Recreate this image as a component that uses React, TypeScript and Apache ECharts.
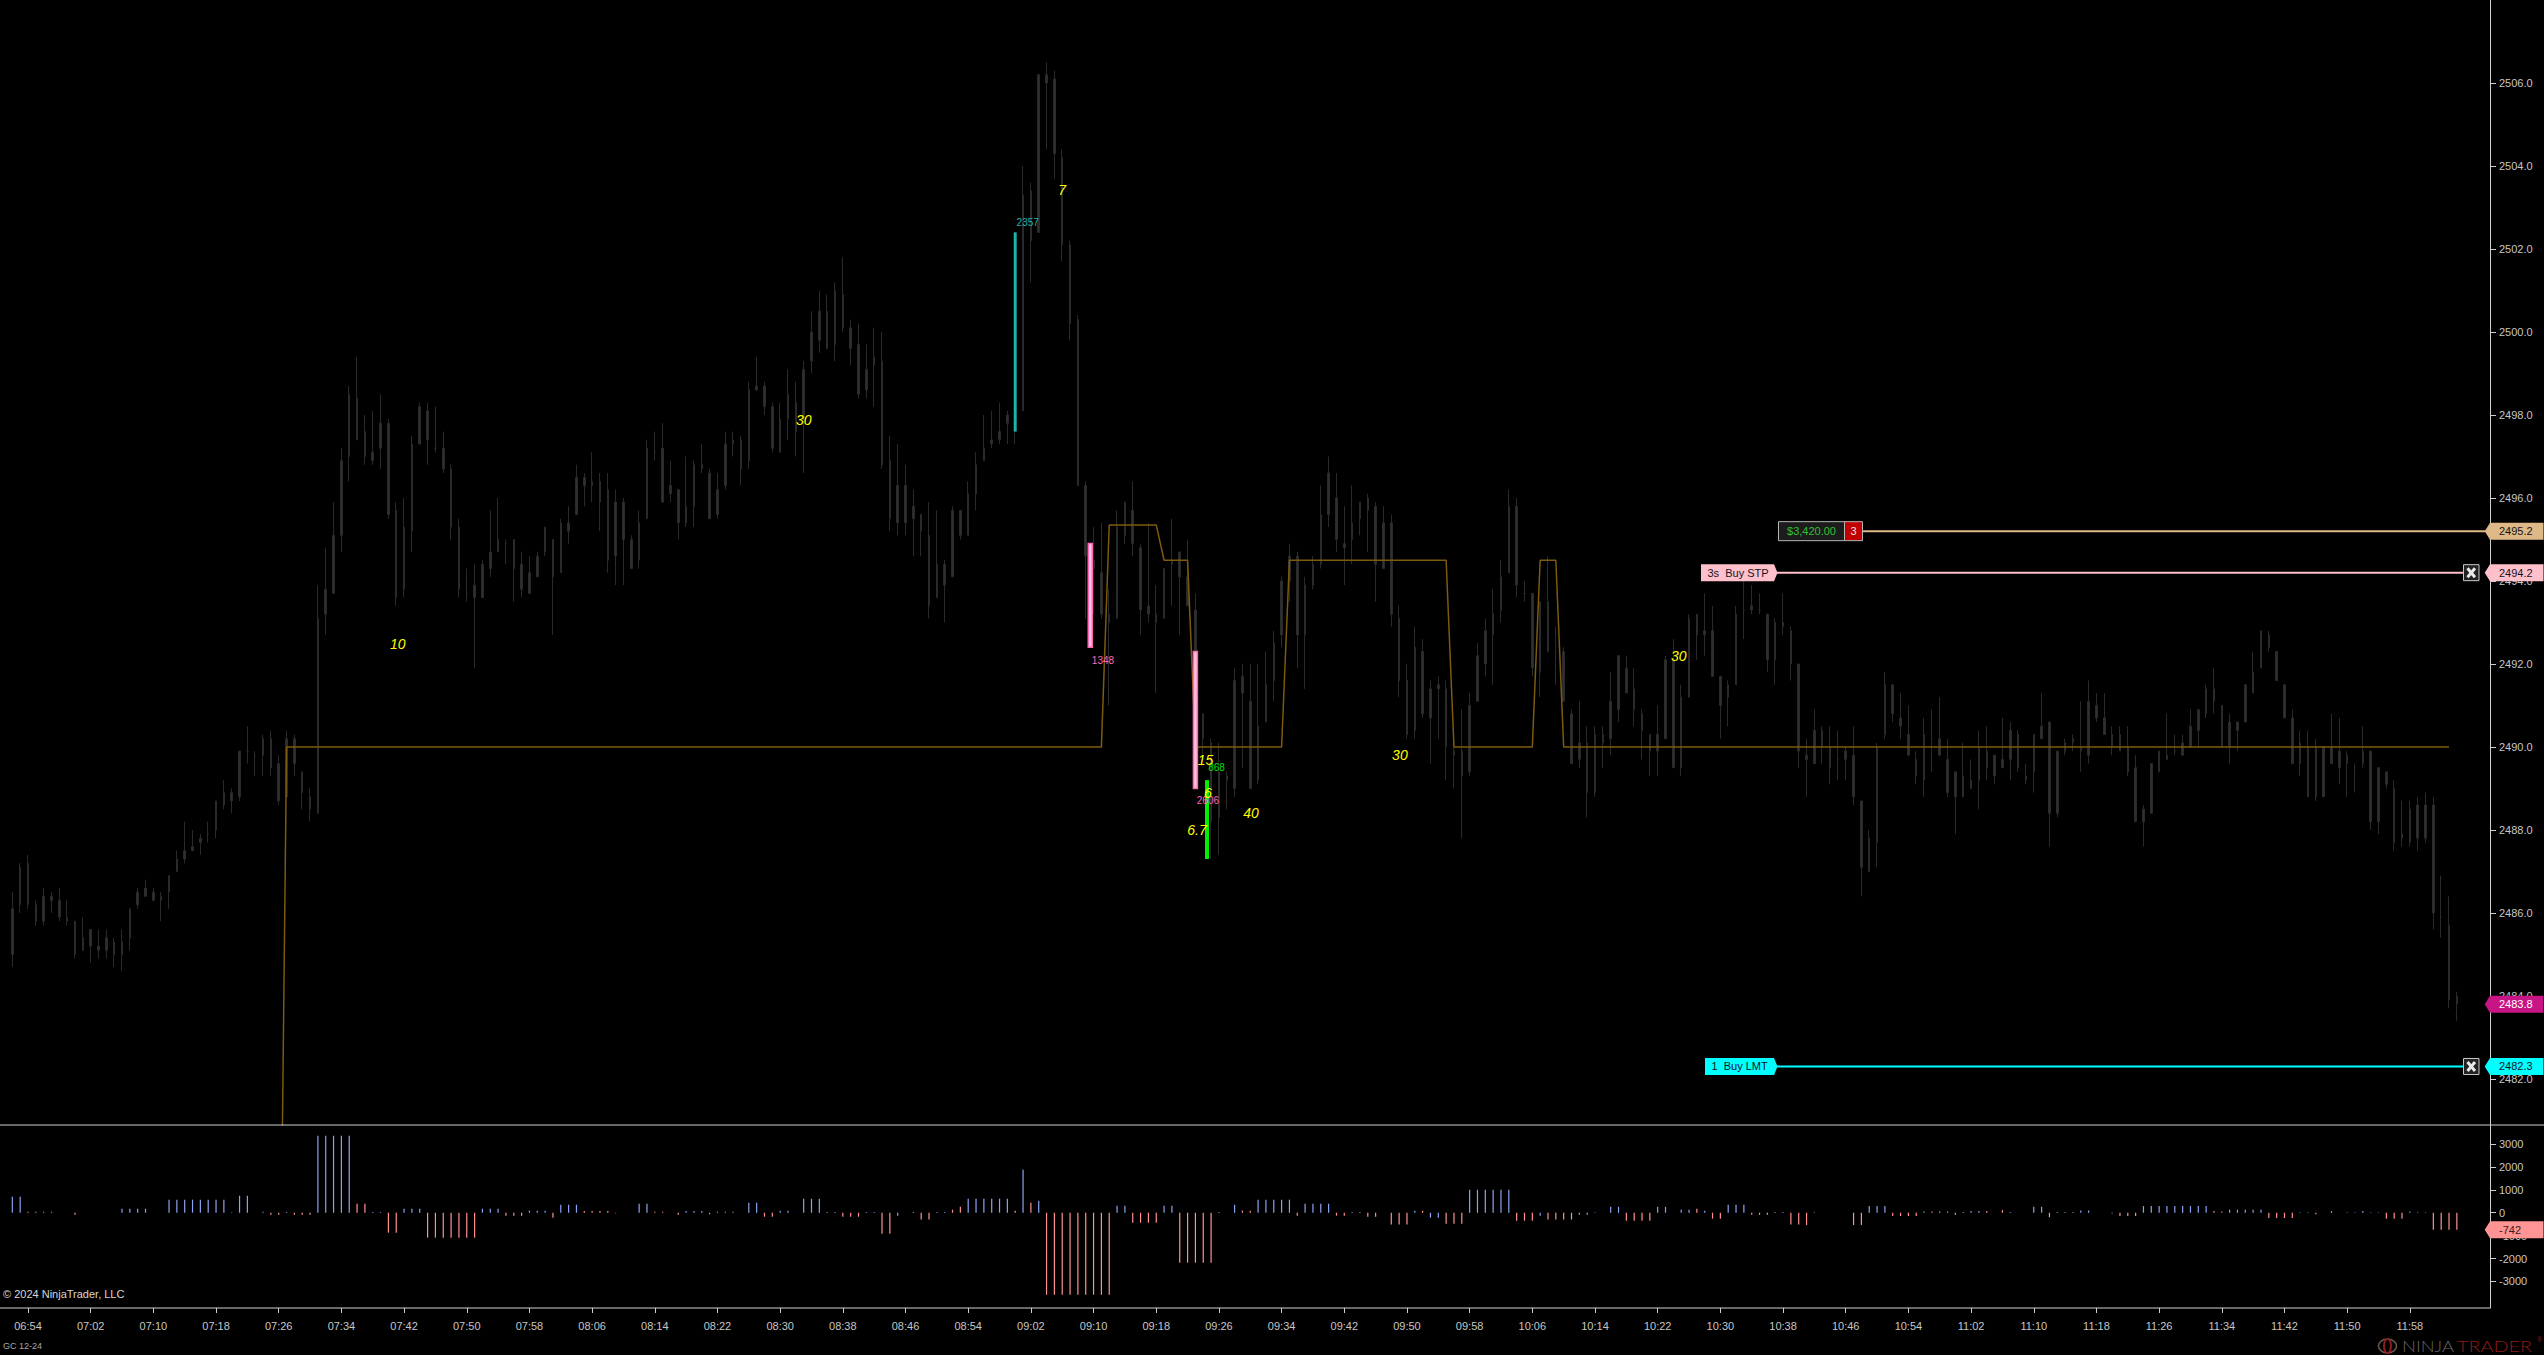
import React, { useEffect, useRef } from "react";
import * as echarts from "echarts";

// One minute per bar, 06:52 to 12:04, plus empty slots before the price scale.
const SESSION_START_MIN = 6 * 60 + 52;
const BAR_COUNT = 313;
const EMPTY_SLOTS = 4;
const categories: string[] = [];
for (let i = 0; i < BAR_COUNT + EMPTY_SLOTS; i++) {
  const m = SESSION_START_MIN + i;
  categories.push(String(Math.floor(m / 60)).padStart(2, "0") + ":" + String(m % 60).padStart(2, "0"));
}
const TIME_TICK_FIRST = 2;
const TIME_TICK_STEP = 8;
const TIME_TICK_LAST = 306;

// Rows: high, body top, body bottom, low.
const barsPreOpen: number[][] = [
  [2486.5,2486.1,2485.0,2484.7],[2487.2,2487.1,2486.2,2486.0],[2487.4,2487.2,2486.2,2486.1],[2486.3,2486.2,2485.8,2485.7],
  [2486.6,2486.4,2485.8,2485.7],[2486.5,2486.4,2486.3,2486.0],[2486.6,2486.3,2485.9,2485.8],[2486.3,2485.9,2485.8,2485.7],
  [2485.8,2485.8,2485.0,2484.9],[2485.9,2485.4,2485.1,2485.1],[2485.6,2485.6,2485.2,2484.8],[2485.6,2485.2,2485.1,2484.9],
  [2485.6,2485.4,2485.1,2484.9],[2485.4,2485.3,2485.0,2484.7],[2485.6,2485.3,2485.0,2484.6],[2486.1,2486.1,2485.4,2485.1],
  [2486.6,2486.5,2486.2,2486.1],[2486.8,2486.6,2486.4,2486.4],[2486.6,2486.5,2486.3,2486.3],[2486.5,2486.4,2486.3,2485.8],
  [2486.9,2486.9,2486.5,2486.1],[2487.5,2487.3,2487.0,2487.0],[2488.2,2487.5,2487.3,2487.2],[2488.0,2487.6,2487.5,2487.5],
  [2487.9,2487.8,2487.7,2487.4],[2488.2,2487.9,2487.9,2487.7],[2488.7,2488.7,2488.0,2487.8],[2489.2,2488.9,2488.6,2488.5],
  [2489.0,2488.9,2488.7,2488.4],[2489.9,2489.9,2488.8,2488.7],[2490.5,2489.9,2489.9,2489.6],[2489.9,2489.8,2489.8,2489.3],
  [2490.3,2490.2,2489.8,2489.3],[2490.4,2490.2,2489.5,2489.3],[2489.8,2489.6,2488.7,2488.6],[2490.4,2490.2,2488.8,2488.8],
  [2490.3,2490.2,2489.6,2489.3],[2489.4,2489.4,2488.9,2488.5],[2489.0,2488.8,2488.5,2488.2],
];
const barsMorning: number[][] = [
  [2493.9,2493.1,2488.4,2488.4],[2494.8,2493.8,2493.2,2492.7],[2495.9,2495.1,2493.7,2493.7],[2497.2,2496.9,2495.1,2494.7],
  [2498.7,2498.5,2497.0,2496.4],[2499.4,2498.4,2497.4,2497.4],[2498.0,2497.6,2497.0,2496.8],[2498.1,2497.1,2496.9,2496.8],
  [2498.5,2497.8,2497.2,2496.7],[2497.9,2497.8,2495.6,2495.5],[2495.9,2495.7,2493.6,2493.4],[2496.0,2495.3,2493.8,2493.6],
  [2497.5,2497.3,2495.2,2494.7],[2498.3,2498.2,2497.3,2497.3],[2498.3,2498.1,2497.4,2496.8],[2498.2,2497.2,2497.2,2497.1],
  [2497.6,2497.2,2496.7,2496.6],[2496.8,2496.7,2495.3,2495.0],[2495.5,2495.3,2493.8,2493.6],[2494.3,2493.7,2493.7,2493.5],
  [2494.4,2493.9,2493.6,2491.9],[2494.5,2494.4,2493.6,2493.6],[2495.7,2494.7,2494.3,2494.1],[2496.0,2495.0,2494.7,2494.7],
  [2495.0,2494.9,2494.9,2494.4],[2495.0,2495.0,2494.3,2493.5],[2494.7,2494.4,2493.8,2493.6],[2494.6,2494.2,2493.7,2493.7],
  [2494.7,2494.6,2494.1,2494.1],[2495.3,2495.3,2494.7,2494.6],[2495.0,2495.0,2494.1,2492.7],[2495.5,2495.4,2494.2,2494.2],
  [2495.8,2495.4,2495.2,2494.9],[2496.8,2496.5,2495.6,2495.6],[2496.6,2496.5,2496.3,2495.8],[2497.1,2496.4,2496.3,2495.9],
  [2496.6,2496.4,2495.9,2495.2],[2496.6,2496.2,2494.5,2494.2],[2496.2,2495.9,2494.6,2493.9],[2496.0,2495.9,2495.0,2493.9],
  [2495.1,2495.0,2494.3,2494.3],[2495.7,2495.4,2494.5,2494.3],[2497.4,2497.2,2495.5,2495.5],[2497.6,2497.1,2497.1,2496.9],
  [2497.8,2497.2,2495.9,2495.9],[2496.9,2496.3,2496.1,2495.9],[2496.2,2496.2,2495.4,2495.0],[2497.0,2495.8,2495.4,2495.3],
  [2496.9,2496.8,2495.8,2495.3],[2497.3,2496.8,2496.7,2496.6],[2496.7,2496.6,2495.5,2495.5],[2496.6,2496.2,2495.6,2495.5],
  [2497.6,2497.3,2496.3,2496.2],[2497.6,2497.4,2497.3,2497.0],[2497.5,2497.4,2496.7,2496.3],[2498.8,2498.6,2496.9,2496.7],
  [2499.4,2498.7,2498.6,2498.6],[2498.8,2498.7,2498.2,2498.0],[2498.3,2498.2,2497.2,2497.1],[2498.3,2497.9,2497.1,2497.1],
  [2499.1,2498.5,2497.9,2497.4],
];
const barsToPeak: number[][] = [
  [2498.8,2498.3,2497.6,2497.0],[2499.3,2499.1,2497.9,2496.6],[2500.5,2500.0,2499.3,2499.0],[2501.0,2500.5,2499.8,2499.5],
  [2500.9,2500.5,2499.6,2499.6],[2501.2,2501.0,2499.7,2499.3],[2501.8,2500.9,2500.1,2500.0],[2500.3,2500.1,2499.6,2499.2],
  [2500.2,2499.7,2498.5,2498.4],[2499.7,2499.1,2498.6,2498.4],[2500.1,2499.4,2499.2,2498.2],[2500.0,2499.3,2496.8,2496.7],
  [2497.5,2496.9,2495.5,2495.2],[2497.3,2496.3,2495.4,2495.1],[2496.8,2496.3,2495.4,2495.1],[2496.2,2495.8,2495.5,2494.6],
  [2495.6,2495.6,2495.2,2494.6],[2495.9,2495.1,2493.4,2493.1],[2495.7,2494.4,2493.6,2493.6],[2494.5,2494.4,2493.9,2493.0],
  [2495.8,2495.7,2494.1,2494.1],[2495.7,2495.7,2495.1,2495.0],[2496.4,2496.1,2495.1,2495.1],[2497.1,2496.8,2496.1,2495.7],
  [2498.0,2497.2,2496.9,2496.9],[2498.1,2497.4,2497.3,2497.2],[2498.3,2497.6,2497.4,2497.3],[2498.1,2498.0,2497.8,2497.3],
  [2502.4,2502.4,2497.6,2497.3],[2504.0,2503.3,2498.1,2498.1],[2503.6,2503.4,2502.2,2501.2],[2506.2,2506.2,2502.4,2502.4],
  [2506.5,2506.2,2506.0,2504.4],[2506.3,2506.1,2504.3,2503.7],[2504.4,2504.2,2502.1,2501.7],[2502.2,2502.1,2500.2,2499.8],
  [2500.4,2500.3,2496.3,2496.3],[2496.4,2496.3,2494.6,2493.1],[2495.3,2494.5,2494.3,2493.2],[2495.4,2494.2,2493.2,2493.1],
  [2493.8,2493.2,2493.0,2491.0],[2495.7,2495.3,2493.1,2493.1],[2495.9,2495.9,2495.1,2494.9],[2496.4,2495.7,2494.9,2494.6],
  [2494.9,2494.8,2493.3,2492.7],[2495.4,2493.4,2493.2,2493.0],[2493.9,2493.2,2493.0,2491.3],[2494.3,2494.3,2493.1,2493.1],
  [2495.5,2494.5,2494.4,2493.4],[2494.7,2494.7,2494.1,2492.7],[2495.0,2494.1,2493.4,2493.4],[2493.7,2493.3,2492.2,2492.1],
  [2490.8,2490.8,2490.2,2489.7],[2490.2,2490.1,2488.2,2487.3],[2490.1,2489.4,2488.3,2487.4],[2489.4,2489.3,2489.2,2488.5],
  [2491.9,2491.6,2489.0,2488.8],[2492.0,2491.7,2491.3,2489.5],[2492.0,2491.1,2489.0,2489.0],[2492.0,2490.5,2489.2,2489.1],
  [2492.3,2491.5,2490.6,2490.6],[2492.8,2492.5,2491.6,2491.1],
];
const barsMidday: number[][] = [
  [2494.1,2494.0,2492.7,2492.4],[2494.9,2494.6,2494.0,2493.5],[2494.7,2494.6,2492.7,2491.9],[2494.1,2493.9,2492.7,2491.4],
  [2494.6,2494.4,2493.9,2493.8],[2496.3,2495.6,2494.4,2494.3],[2497.0,2496.6,2495.6,2495.3],[2496.6,2496.0,2495.0,2494.7],
  [2495.8,2494.9,2494.8,2493.9],[2496.3,2495.4,2495.0,2494.4],[2495.9,2495.9,2495.5,2495.1],[2496.1,2496.0,2495.7,2494.7],
  [2495.9,2495.8,2494.4,2493.5],[2495.8,2495.4,2494.3,2494.3],[2495.6,2495.4,2493.2,2492.9],[2493.4,2493.1,2491.6,2491.2],
  [2492.0,2491.6,2490.3,2490.2],[2492.9,2492.4,2490.4,2490.2],[2492.6,2492.3,2490.8,2490.7],[2491.6,2491.4,2490.7,2489.6],
  [2491.7,2491.5,2491.4,2490.2],[2491.6,2491.4,2490.0,2489.2],[2490.2,2489.9,2489.8,2489.0],[2490.9,2489.9,2489.3,2487.8],
  [2491.3,2491.0,2489.4,2489.3],[2492.5,2492.2,2491.1,2491.1],[2493.1,2492.8,2492.0,2491.7],[2493.8,2493.2,2492.7,2491.5],
  [2494.5,2494.1,2493.3,2493.0],[2496.2,2495.8,2494.2,2494.2],[2496.0,2495.8,2493.9,2493.6],[2494.0,2493.7,2493.7,2493.5],
  [2493.7,2493.7,2491.9,2491.7],[2493.5,2493.5,2491.8,2491.2],[2494.6,2493.5,2492.3,2492.3],[2492.9,2492.3,2492.3,2491.5],
  [2492.4,2492.3,2491.1,2491.1],[2490.9,2490.8,2489.6,2489.6],[2491.1,2490.1,2489.7,2489.5],[2490.5,2490.1,2488.9,2488.3],
  [2490.5,2490.3,2488.9,2488.8],[2490.5,2490.3,2490.1,2489.5],[2491.8,2491.1,2490.2,2489.8],[2492.2,2492.2,2490.9,2490.6],
  [2492.2,2491.9,2491.3,2491.3],[2491.9,2491.4,2490.9,2490.5],[2490.9,2490.8,2490.4,2489.7],[2490.3,2490.3,2489.9,2489.3],
  [2491.0,2490.3,2489.9,2489.3],[2492.2,2492.1,2490.2,2490.2],[2492.6,2492.1,2489.5,2489.5],[2491.5,2491.2,2489.5,2489.3],
  [2493.2,2493.1,2491.2,2491.2],[2493.2,2493.2,2492.7,2492.1],[2493.7,2492.8,2492.7,2492.2],[2493.4,2492.8,2491.7,2491.7],
  [2491.7,2491.7,2491.0,2490.2],[2491.6,2491.5,2491.2,2490.5],[2493.4,2493.2,2491.5,2491.5],[2494.0,2493.3,2493.3,2492.6],
  [2493.9,2493.4,2493.3,2493.2],[2493.7,2493.3,2493.3,2493.2],[2493.2,2493.2,2492.1,2491.8],[2493.1,2493.0,2492.1,2491.5],
  [2493.7,2493.0,2492.9,2492.7],[2492.9,2492.8,2492.0,2491.6],
];
const barsAfternoon: number[][] = [
  [2492.0,2492.0,2489.9,2489.5],[2490.2,2489.8,2489.7,2488.8],[2490.9,2490.4,2489.6,2489.6],[2490.5,2490.4,2490.0,2489.6],
  [2490.5,2490.0,2489.5,2489.1],[2490.4,2489.7,2489.7,2489.2],[2490.0,2489.9,2489.7,2489.2],[2490.5,2489.8,2488.8,2488.6],
  [2488.7,2488.7,2487.1,2486.4],[2488.0,2487.8,2487.0,2487.0],[2490.1,2490.0,2487.7,2487.1],[2491.8,2491.5,2490.3,2490.2],
  [2491.5,2491.5,2490.8,2490.6],[2491.3,2490.7,2490.5,2490.2],[2491.0,2490.3,2489.8,2489.8],[2489.9,2489.7,2489.3,2489.1],
  [2490.7,2490.3,2489.2,2488.8],[2490.9,2490.2,2490.2,2489.4],[2491.2,2490.2,2489.8,2489.8],[2490.2,2489.7,2488.9,2488.8],
  [2489.4,2489.4,2488.8,2487.9],[2490.1,2489.3,2488.8,2488.8],[2489.7,2489.2,2489.0,2489.0],[2490.4,2490.0,2489.2,2488.5],
  [2490.5,2489.9,2489.5,2489.2],[2489.8,2489.8,2489.3,2489.1],[2490.7,2489.7,2489.5,2489.5],[2490.6,2490.4,2489.7,2489.2],
  [2490.4,2490.3,2489.5,2489.4],[2489.6,2489.3,2489.2,2489.1],[2490.3,2490.3,2489.4,2488.9],[2491.3,2490.5,2490.2,2490.2],
  [2490.6,2490.6,2488.4,2487.6],[2489.9,2489.9,2488.4,2488.3],[2490.2,2490.1,2489.9,2489.8],[2490.3,2490.2,2490.1,2489.9],
  [2491.1,2490.0,2489.9,2489.4],[2491.6,2491.1,2489.8,2489.6],[2491.3,2491.0,2490.7,2490.6],[2491.3,2490.7,2490.3,2490.3],
  [2490.5,2490.3,2490.0,2489.8],[2490.5,2490.3,2489.9,2489.9],[2490.5,2490.0,2489.4,2489.3],[2489.8,2489.5,2488.2,2488.2],
  [2488.6,2488.5,2488.2,2487.6],[2489.6,2489.6,2488.4,2488.4],[2489.9,2489.9,2489.4,2489.4],[2490.8,2489.8,2489.7,2489.7],
  [2490.3,2489.9,2489.9,2489.8],[2490.3,2490.1,2489.8,2489.8],[2490.9,2490.5,2490.0,2490.0],[2490.9,2490.9,2490.4,2490.0],
  [2491.5,2491.4,2490.8,2490.7],[2491.9,2491.4,2491.1,2490.8],[2491.0,2491.0,2490.0,2490.0],[2490.8,2490.6,2490.0,2489.6],
  [2490.6,2490.6,2490.4,2489.9],[2491.5,2491.5,2490.6,2490.6],[2492.3,2491.8,2491.3,2491.3],[2492.8,2492.8,2491.9,2491.9],
  [2492.8,2492.7,2492.4,2492.3],[2492.3,2492.3,2491.6,2491.6],[2491.5,2491.5,2490.7,2490.7],[2490.9,2490.7,2489.6,2489.6],
  [2490.4,2490.1,2489.6,2489.3],[2490.4,2490.0,2488.8,2488.8],[2490.2,2490.0,2488.8,2488.7],[2490.0,2490.0,2488.8,2488.8],
  [2490.8,2490.0,2489.6,2489.6],[2490.7,2489.9,2489.5,2489.1],[2489.9,2489.8,2489.6,2488.8],[2489.6,2489.5,2489.5,2488.9],
  [2490.5,2489.9,2489.6,2489.5],[2489.9,2489.9,2488.2,2488.0],[2489.5,2489.5,2488.2,2487.9],[2489.4,2489.4,2489.1,2489.0],
  [2489.2,2489.0,2487.7,2487.5],[2488.7,2487.9,2487.8,2487.6],[2488.7,2488.5,2487.7,2487.6],[2488.8,2488.6,2487.8,2487.5],
  [2488.9,2488.6,2487.8,2487.7],[2488.8,2488.6,2486.0,2485.6],[2486.9,2485.9,2485.9,2485.4],[2486.4,2485.7,2483.9,2483.7],
  [2484.1,2484.0,2483.8,2483.4],
];
const priceBars = [...barsPreOpen, ...barsMorning, ...barsToPeak, ...barsMidday, ...barsAfternoon];

// Level line, as runs of [first bar, last bar, price].
const levelRuns: number[][] = [
  [34, 34, 2472.6], [35, 139, 2490], [140, 146, 2495.35], [147, 150, 2494.5], [151, 162, 2490],
  [163, 183, 2494.5], [184, 194, 2490], [195, 197, 2494.5], [198, 311, 2490],
];

const deltaValues: number[] = [
  700,700,40,40,40,40,0,0,-90,0,
  0,0,0,0,175,175,175,175,0,0,
  570,570,570,570,570,570,570,570,20,740,
  740,0,40,-90,-90,30,-90,-90,-90,3360,
  3360,3360,3360,3360,390,390,30,30,-870,-870,
  175,175,175,-1090,-1090,-1090,-1090,-1090,-1090,-1090,
  175,175,175,-130,-130,-130,90,90,90,-220,
  350,350,350,70,70,70,70,-20,0,0,
  390,390,40,40,0,-90,70,70,70,-70,
  40,40,40,0,440,440,-175,-175,90,90,
  0,610,610,610,30,30,-175,-175,-175,30,
  30,-920,-920,-130,0,30,-300,-300,30,30,
  130,260,610,610,610,610,610,610,90,1880,
  440,520,-3580,-3580,-3580,-3580,-3580,-3580,-3580,-3580,
  -3580,300,300,-437,-437,-437,-437,300,300,-2180,
  -2180,-2180,-2180,-2180,30,0,350,90,90,570,
  570,570,570,570,-130,390,390,390,390,-130,
  -130,30,30,-175,-175,0,-520,-520,-520,90,
  90,-220,-220,-480,-480,-480,1000,1000,1000,1000,
  1000,1000,-350,-350,-350,-130,-300,-300,-300,-300,
  -90,-90,20,0,260,260,-350,-350,-350,-350,
  260,260,0,130,130,175,90,-260,-260,350,
  350,350,-90,-90,-90,30,30,-520,-520,-540,
  20,0,0,0,0,-540,-540,290,290,290,
  -145,-145,-145,-145,50,50,50,50,-100,30,
  70,70,70,0,115,30,0,0,260,260,
  -200,30,30,30,100,100,0,0,-30,-145,
  -145,-145,290,290,290,290,290,290,290,290,
  290,70,50,130,130,130,130,130,-230,-230,
  -230,-230,20,20,-70,0,70,0,20,20,
  70,20,20,-260,-260,-260,50,20,20,-742,
  -742,-742,-742,
];
const deltaWarmUps = [2,3,44,45,73,74,75,76,82,83,120,121,128,130,157,158,180,215,245,246,247,249,252,254,263,281,282,296,307];
const deltaCoolDowns = [113,181,182,195,200,201,248,268];

const priceTicks = [2482,2484,2486,2488,2490,2492,2494,2496,2498,2500,2502,2504,2506];
const deltaTicks = [-3000,-2000,-1000,0,1000,2000,3000];

// Overlaid signal bars: fractional bar position, low, high.
const signalBars = [
  { pos: 128, lo: 2497.6, hi: 2502.4, kind: "cyan" },
  { pos: 137.58, lo: 2492.4, hi: 2494.9, kind: "pink" },
  { pos: 151, lo: 2489.0, hi: 2492.3, kind: "pink" },
  { pos: 152.48, lo: 2487.3, hi: 2489.2, kind: "green" },
];
const volumeNotes = [
  { pos: 129.6, price: 2502.64, text: "2357", color: "#20b2aa" },
  { pos: 139.2, price: 2492.09, text: "1348", color: "#ff69b4" },
  { pos: 152.6, price: 2488.7, text: "2606", color: "#ff69b4" },
  { pos: 153.7, price: 2489.51, text: "868", color: "#00e000" },
];
const ratioNotes = [
  { pos: 49.2, price: 2492.48, text: "10" },
  { pos: 101, price: 2497.87, text: "30" },
  { pos: 134, price: 2503.43, text: "7" },
  { pos: 152.3, price: 2489.68, text: "15" },
  { pos: 152.6, price: 2488.89, text: "6" },
  { pos: 151.2, price: 2488.0, text: "6.7" },
  { pos: 158.1, price: 2488.4, text: "40" },
  { pos: 177.1, price: 2489.8, text: "30" },
  { pos: 212.7, price: 2492.19, text: "30" },
];
const priceTags = [
  { price: 2495.2, label: "2495.2", fill: "#deb887", text: "#141414" },
  { price: 2494.2, label: "2494.2", fill: "#ffc0cb", text: "#141428" },
  { price: 2483.8, label: "2483.8", fill: "#c71585", text: "#ffffff" },
  { price: 2482.3, label: "2482.3", fill: "#00ffff", text: "#141428" },
];
const deltaTag = { value: -742, label: "-742", fill: "#ff9494", text: "#3a1a1a" };
const workingOrders = [
  { price: 2494.2, label: "3s  Buy STP", fill: "#ffc0cb", left: 1701 },
  { price: 2482.3, label: "1  Buy LMT", fill: "#00ffff", left: 1705 },
];
const position = { price: 2495.2, pnl: "$3,420.00", qty: "3", lineColor: "#deb887" };

const FONT = "Liberation Sans";
const TICK_TEXT = "#c6c6c6";
const AXIS_LINE = "#cfcfcf";

export default function App() {
  const ref = useRef<HTMLDivElement>(null);
  useEffect(() => {
    document.body.style.margin = "0";
    document.body.style.background = "#000";
    const chart = echarts.init(ref.current!, null, { renderer: "svg", width: 2544, height: 1355 });

    const candleData = priceBars.map(([h, t, b, l]) => [b, t, l, h]);
    const levelData: (number | null)[] = categories.map(() => null);
    levelRuns.forEach(([a, b, p]) => { for (let i = a; i <= b; i++) levelData[i] = p; });
    const deltaData = deltaValues.map((v, i) => {
      const warm = v < 0 ? !deltaCoolDowns.includes(i) : deltaWarmUps.includes(i);
      return { value: v, itemStyle: { color: warm ? "#ff9090" : "#8ea2f2" } };
    });

    const tagItem = (api: any, y: number, label: string, fill: string, textColor: string) => ({
      type: "group",
      children: [
        {
          type: "polygon",
          shape: { points: [[2484.7, y], [2490, y - 8.5], [2543.5, y - 8.5], [2543.5, y + 8.5], [2490, y + 8.5]] },
          style: { fill },
        },
        { type: "text", style: { x: 2499, y, text: label, fill: textColor, font: `11px "${FONT}"`, align: "left", verticalAlign: "middle" } },
      ],
    });

    const closeBox = (y: number) => ({
      type: "group",
      children: [
        { type: "rect", shape: { x: 2463.5, y: y - 8, width: 15.5, height: 16 }, style: { fill: "#222", stroke: "#c8c8c8", lineWidth: 1 } },
        { type: "line", shape: { x1: 2467.5, y1: y - 4.5, x2: 2475, y2: y + 4.5 }, style: { stroke: "#e8e8e8", lineWidth: 3 } },
        { type: "line", shape: { x1: 2475, y1: y - 4.5, x2: 2467.5, y2: y + 4.5 }, style: { stroke: "#e8e8e8", lineWidth: 3 } },
      ],
    });

    const option: any = {
      animation: false,
      backgroundColor: "#000",
      grid: [
        { left: 8.41, top: 0, width: 2483.7, height: 1125 },
        { left: 8.41, top: 1125, width: 2483.7, height: 183 },
      ],
      xAxis: [
        { type: "category", gridIndex: 0, data: categories, show: false, axisLine: { onZero: false } },
        {
          type: "category",
          gridIndex: 1,
          data: categories,
          axisLine: { show: false, onZero: false },
          axisTick: {
            show: true,
            length: 5,
            alignWithLabel: true,
            lineStyle: { color: AXIS_LINE },
            interval: (i: number) => i >= TIME_TICK_FIRST && i <= TIME_TICK_LAST && (i - TIME_TICK_FIRST) % TIME_TICK_STEP === 0,
          },
          axisLabel: {
            color: TICK_TEXT,
            fontFamily: FONT,
            fontSize: 11,
            margin: 12,
            interval: (i: number) => i >= TIME_TICK_FIRST && i <= TIME_TICK_LAST && (i - TIME_TICK_FIRST) % TIME_TICK_STEP === 0,
          },
        },
      ],
      yAxis: [
        {
          type: "value",
          gridIndex: 0,
          position: "right",
          offset: -2.11,
          min: 2480.89,
          max: 2508,
          splitLine: { show: false },
          axisLine: { show: true, lineStyle: { color: AXIS_LINE } },
          axisTick: { show: true, length: 6, customValues: priceTicks, lineStyle: { color: AXIS_LINE } },
          axisLabel: {
            customValues: priceTicks,
            color: TICK_TEXT,
            fontFamily: FONT,
            fontSize: 11,
            margin: 9,
            formatter: (v: number) => v.toFixed(1),
          },
        },
        {
          type: "value",
          gridIndex: 1,
          position: "right",
          offset: -2.11,
          min: -4161,
          max: 3830,
          splitLine: { show: false },
          axisLine: { show: true, lineStyle: { color: AXIS_LINE } },
          axisTick: { show: true, length: 6, customValues: deltaTicks, lineStyle: { color: AXIS_LINE } },
          axisLabel: {
            customValues: deltaTicks,
            color: TICK_TEXT,
            fontFamily: FONT,
            fontSize: 11,
            margin: 9,
            formatter: (v: number) => String(v),
          },
        },
      ],
      series: [
        {
          name: "Price",
          type: "candlestick",
          xAxisIndex: 0,
          yAxisIndex: 0,
          data: candleData,
          barWidth: 2,
          z: 2,
          itemStyle: {
            color: "#303030",
            color0: "#303030",
            borderColor: "#2a2a2a",
            borderColor0: "#2a2a2a",
            borderColorDoji: "#2a2a2a",
            borderWidth: 1,
          },
        },
        {
          name: "Level",
          type: "line",
          xAxisIndex: 0,
          yAxisIndex: 0,
          data: levelData,
          showSymbol: false,
          symbol: "none",
          connectNulls: false,
          z: 3,
          lineStyle: { color: "#7d5a0e", width: 1.5 },
        },
        {
          name: "Signal bars",
          type: "custom",
          xAxisIndex: 0,
          yAxisIndex: 0,
          z: 4,
          encode: { x: 0, y: 1 },
          data: signalBars.map((s) => [Math.floor(s.pos), s.lo]),
          renderItem: (p: any, api: any) => {
            const s = signalBars[p.dataIndex];
            const band = api.size([1, 0])[0];
            const base = Math.floor(s.pos);
            const x = api.coord([base, s.lo])[0] + (s.pos - base) * band;
            const y1 = api.coord([base, s.hi])[1];
            const y0 = api.coord([base, s.lo])[1];
            if (s.kind === "pink") {
              return {
                type: "rect",
                shape: { x: x - 2, y: y1, width: 4, height: y0 - y1 },
                style: { fill: "#ffc4dc", stroke: "#ff69b4", lineWidth: 1.5 },
              };
            }
            const w = s.kind === "green" ? 4 : 3;
            return {
              type: "rect",
              shape: { x: x - w / 2, y: y1, width: w, height: y0 - y1 },
              style: { fill: s.kind === "green" ? "#00f000" : "#1cb5ab" },
            };
          },
        },
        {
          name: "Volume notes",
          type: "custom",
          xAxisIndex: 0,
          yAxisIndex: 0,
          z: 5,
          encode: { x: 0, y: 1 },
          data: volumeNotes.map((n) => [Math.floor(n.pos), n.price]),
          renderItem: (p: any, api: any) => {
            const n = volumeNotes[p.dataIndex];
            const base = Math.floor(n.pos);
            const c = api.coord([base, n.price]);
            return {
              type: "text",
              style: {
                x: c[0] + (n.pos - base) * api.size([1, 0])[0],
                y: c[1],
                text: n.text,
                fill: n.color,
                font: `10px "${FONT}"`,
                align: "center",
                verticalAlign: "middle",
              },
            };
          },
        },
        {
          name: "Ratio notes",
          type: "custom",
          xAxisIndex: 0,
          yAxisIndex: 0,
          z: 6,
          encode: { x: 0, y: 1 },
          data: ratioNotes.map((n) => [Math.floor(n.pos), n.price]),
          renderItem: (p: any, api: any) => {
            const n = ratioNotes[p.dataIndex];
            const base = Math.floor(n.pos);
            const c = api.coord([base, n.price]);
            return {
              type: "text",
              style: {
                x: c[0] + (n.pos - base) * api.size([1, 0])[0],
                y: c[1],
                text: n.text,
                fill: "#ffff00",
                font: `italic 14px "${FONT}"`,
                align: "center",
                verticalAlign: "middle",
              },
            };
          },
        },
        {
          name: "Position",
          type: "custom",
          xAxisIndex: 0,
          yAxisIndex: 0,
          z: 7,
          encode: { x: 0, y: 1 },
          data: [[0, position.price]],
          renderItem: (_p: any, api: any) => {
            const y = api.coord([0, position.price])[1];
            return {
              type: "group",
              children: [
                { type: "line", shape: { x1: 1862, y1: y, x2: 2486, y2: y }, style: { stroke: position.lineColor, lineWidth: 2 } },
                { type: "rect", shape: { x: 1778.5, y: y - 9.5, width: 66, height: 19 }, style: { fill: "#1c1c1c", stroke: "#b4b4b4", lineWidth: 1 } },
                { type: "rect", shape: { x: 1844.5, y: y - 9.5, width: 18, height: 19 }, style: { fill: "#c00000", stroke: "#b4b4b4", lineWidth: 1 } },
                { type: "text", style: { x: 1811.5, y, text: position.pnl, fill: "#32c032", font: `11px "${FONT}"`, align: "center", verticalAlign: "middle" } },
                { type: "text", style: { x: 1853.5, y, text: position.qty, fill: "#f0e0e0", font: `11px "${FONT}"`, align: "center", verticalAlign: "middle" } },
              ],
            };
          },
        },
        {
          name: "Working orders",
          type: "custom",
          xAxisIndex: 0,
          yAxisIndex: 0,
          z: 7,
          encode: { x: 0, y: 1 },
          data: workingOrders.map((o) => [0, o.price]),
          renderItem: (p: any, api: any) => {
            const o = workingOrders[p.dataIndex];
            const y = api.coord([0, o.price])[1];
            return {
              type: "group",
              children: [
                { type: "line", shape: { x1: 1776, y1: y, x2: 2463, y2: y }, style: { stroke: o.fill, lineWidth: 2 } },
                {
                  type: "polygon",
                  shape: { points: [[o.left, y - 8.5], [1774, y - 8.5], [1777.5, y], [1774, y + 8.5], [o.left, y + 8.5]] },
                  style: { fill: o.fill },
                },
                { type: "text", style: { x: o.left + 6.5, y, text: o.label, fill: "#141428", font: `11px "${FONT}"`, align: "left", verticalAlign: "middle" } },
                closeBox(y),
              ],
            };
          },
        },
        {
          name: "Price tags",
          type: "custom",
          xAxisIndex: 0,
          yAxisIndex: 0,
          z: 8,
          encode: { x: 0, y: 1 },
          data: priceTags.map((t) => [0, t.price]),
          renderItem: (p: any, api: any) => {
            const t = priceTags[p.dataIndex];
            return tagItem(api, api.coord([0, t.price])[1], t.label, t.fill, t.text);
          },
        },
        {
          name: "Delta",
          type: "bar",
          xAxisIndex: 1,
          yAxisIndex: 1,
          data: deltaData,
          barWidth: 1.2,
          z: 2,
        },
        {
          name: "Delta tag",
          type: "custom",
          xAxisIndex: 1,
          yAxisIndex: 1,
          z: 8,
          encode: { x: 0, y: 1 },
          data: [[0, deltaTag.value]],
          renderItem: (_p: any, api: any) =>
            tagItem(api, api.coord([0, deltaTag.value])[1], deltaTag.label, deltaTag.fill, deltaTag.text),
        },
      ],
      graphic: [
        { type: "line", z: 9, shape: { x1: 0, y1: 1125, x2: 2544, y2: 1125 }, style: { stroke: AXIS_LINE, lineWidth: 1 } },
        { type: "line", z: 9, shape: { x1: 0, y1: 1308, x2: 2490, y2: 1308 }, style: { stroke: AXIS_LINE, lineWidth: 1 } },
        { type: "text", z: 9, x: 3, y: 1288, style: { text: "© 2024 NinjaTrader, LLC", fill: "#d8d8d8", font: `11px "${FONT}"` } },
        { type: "text", z: 9, x: 3, y: 1341, style: { text: "GC 12-24", fill: "#a8a8a8", font: `9px "${FONT}"` } },
        { type: "ellipse", z: 9, shape: { cx: 2387.5, cy: 1346, rx: 9, ry: 7 }, style: { fill: "none", stroke: "#6a5a50", lineWidth: 1.5 } },
        { type: "ellipse", z: 9, shape: { cx: 2387.5, cy: 1346, rx: 3.5, ry: 7 }, style: { fill: "none", stroke: "#8c1c1c", lineWidth: 2 } },
        { type: "text", z: 9, x: 2402, y: 1338, scaleX: 1.15, style: { text: "NINJA", fill: "#666666", font: `300 16px "Lato"` } },
        { type: "text", z: 9, x: 2457, y: 1338, scaleX: 1.24, style: { text: "TRADER", fill: "#8c1c1c", font: `300 16px "Lato"` } },
        { type: "text", z: 9, x: 2537, y: 1336, style: { text: "®", fill: "#8c1c1c", font: `7px "${FONT}"` } },
      ],
    };
    chart.setOption(option);
    return () => chart.dispose();
  }, []);
  return <div ref={ref} style={{ position: "fixed", left: 0, top: 0, width: 2544, height: 1355, background: "#000" }} />;
}
